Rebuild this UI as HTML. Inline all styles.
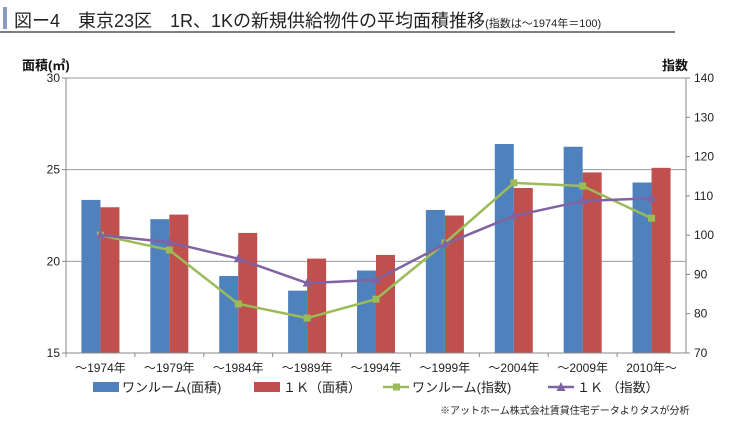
<!DOCTYPE html>
<html><head><meta charset="utf-8"><style>
body{margin:0;background:#fff;width:729px;height:430px;overflow:hidden;font-family:"Liberation Sans","Noto Sans CJK JP",sans-serif}
</style></head><body>
<svg id="c" width="729" height="430" xmlns="http://www.w3.org/2000/svg" font-family="Liberation Sans, Noto Sans CJK JP, sans-serif">
<rect x="3" y="7" width="4" height="22" fill="#8a9bc0"/>
<text x="14" y="27" font-size="18" fill="#222">図ー4　東京23区　1R、1Kの新規供給物件の平均面積推移<tspan font-size="11">(指数は～1974年＝100)</tspan></text>
<line x1="0" y1="32" x2="675" y2="32" stroke="#333" stroke-width="1.2"/>
<text x="22" y="70" font-size="13" font-weight="bold" fill="#111">面積(㎡)</text>
<text x="662" y="70" font-size="13" font-weight="bold" fill="#111">指数</text>
<g id="plot"></g>
<text x="440" y="414" font-size="10" fill="#222">※アットホーム株式会社賃貸住宅データよりタスが分析</text>
</svg>
<script>
const categories=["～1974年","～1979年","～1984年","～1989年","～1994年","～1999年","～2004年","～2009年","2010年～"];
const roomArea=[23.35,22.3,19.2,18.4,19.5,22.8,26.4,26.25,24.3];
const kArea=[22.95,22.55,21.55,20.15,20.35,22.5,24.0,24.85,25.1];
const roomIndex=[100,96.2,82.5,78.9,83.7,98,113.3,112.5,104.3];
const kIndex=[100,98.2,94,87.8,88.6,97.7,104.9,108.7,109.4];
const leftTicks=[15,20,25,30];
const rightTicks=[70,80,90,100,110,120,130,140];
const NS="http://www.w3.org/2000/svg";
const L=66,R=686,T=78,B=353;
const yL=v=>B-(v-15)/15*(B-T);
const yR=v=>B-(v-70)/70*(B-T);
const cw=(R-L)/categories.length;
const xc=i=>L+cw*(i+0.5);
const g=document.getElementById('plot');
function mk(tag,attrs,txt){const e=document.createElementNS(NS,tag);for(const k in attrs)e.setAttribute(k,attrs[k]);if(txt!=null)e.textContent=txt;g.appendChild(e);return e;}
leftTicks.forEach(v=>{
 const l=mk('line',{x1:L,x2:R,y1:yL(v),y2:yL(v),stroke:'#999','stroke-width':1});
 
 
 const t=mk('text',{x:L-6,y:yL(v)+4,'font-size':12,'text-anchor':'end',fill:'#222'},v);
 
 
 mk('line',{x1:L-4,x2:L,y1:yL(v),y2:yL(v),stroke:'#888'});
});
rightTicks.forEach(v=>{
 const t=mk('text',{x:R+8,y:yR(v)+4,'font-size':12,fill:'#222'},v);
 
 
 mk('line',{x1:R,x2:R+4,y1:yR(v),y2:yR(v),stroke:'#888'});
});
mk('line',{x1:L,x2:L,y1:T,y2:B,stroke:'#888'});
mk('line',{x1:R,x2:R,y1:T,y2:B,stroke:'#888'});
categories.forEach((c,i)=>{
 const b1=mk('rect',{x:xc(i)-19,y:yL(roomArea[i]),width:19,height:B-yL(roomArea[i]),fill:'#4f81bd'});
 
 
 const b2=mk('rect',{x:xc(i),y:yL(kArea[i]),width:19,height:B-yL(kArea[i]),fill:'#c0504d'});
 
 
 const t=mk('text',{x:xc(i),y:372,'font-size':12,'text-anchor':'middle',fill:'#222'},c);
 
 
 mk('line',{x1:L+cw*i,x2:L+cw*i,y1:B,y2:B+4,stroke:'#888'});
});
mk('line',{x1:L,x2:R,y1:B,y2:B,stroke:'#888'});
function series(vals,color,name){
 const p=mk('polyline',{points:vals.map((v,i)=>xc(i)+','+yR(v)).join(' '),fill:'none',stroke:color,'stroke-width':2.5});
 
 
 vals.forEach((v,i)=>{
  let m;
  if(name==='oneroom-index') m=mk('rect',{x:xc(i)-3.5,y:yR(v)-3.5,width:7,height:7,fill:color});
  else m=mk('polygon',{points:`${xc(i)},${yR(v)-5} ${xc(i)-4.5},${yR(v)+3.5} ${xc(i)+4.5},${yR(v)+3.5}`,fill:color});
  
  
 });
}
series(roomIndex,'#9bbb59','oneroom-index');
series(kIndex,'#8064a2','1k-index');
const leg=[['rect','#4f81bd','ワンルーム(面積)',93],['rect','#c0504d','１Ｋ（面積）',254],['sq','#9bbb59','ワンルーム(指数)',383],['tri','#8064a2','１Ｋ （指数）',548]];
leg.forEach(([k,col,lab,x])=>{
 const y=388;
 if(k==='rect') mk('rect',{x:x,y:y-6,width:26,height:10,fill:col});
 else{
  mk('line',{x1:x,x2:x+26,y1:y-1,y2:y-1,stroke:col,'stroke-width':2.5});
  if(k==='sq') mk('rect',{x:x+10,y:y-4.5,width:7,height:7,fill:col});
  else mk('polygon',{points:`${x+13},${y-6} ${x+8.5},${y+3} ${x+17.5},${y+3}`,fill:col});
 }
 const t=mk('text',{x:x+29,y:y+4,'font-size':13,fill:'#222'},lab);
 
 
});
</script>
</body></html>
